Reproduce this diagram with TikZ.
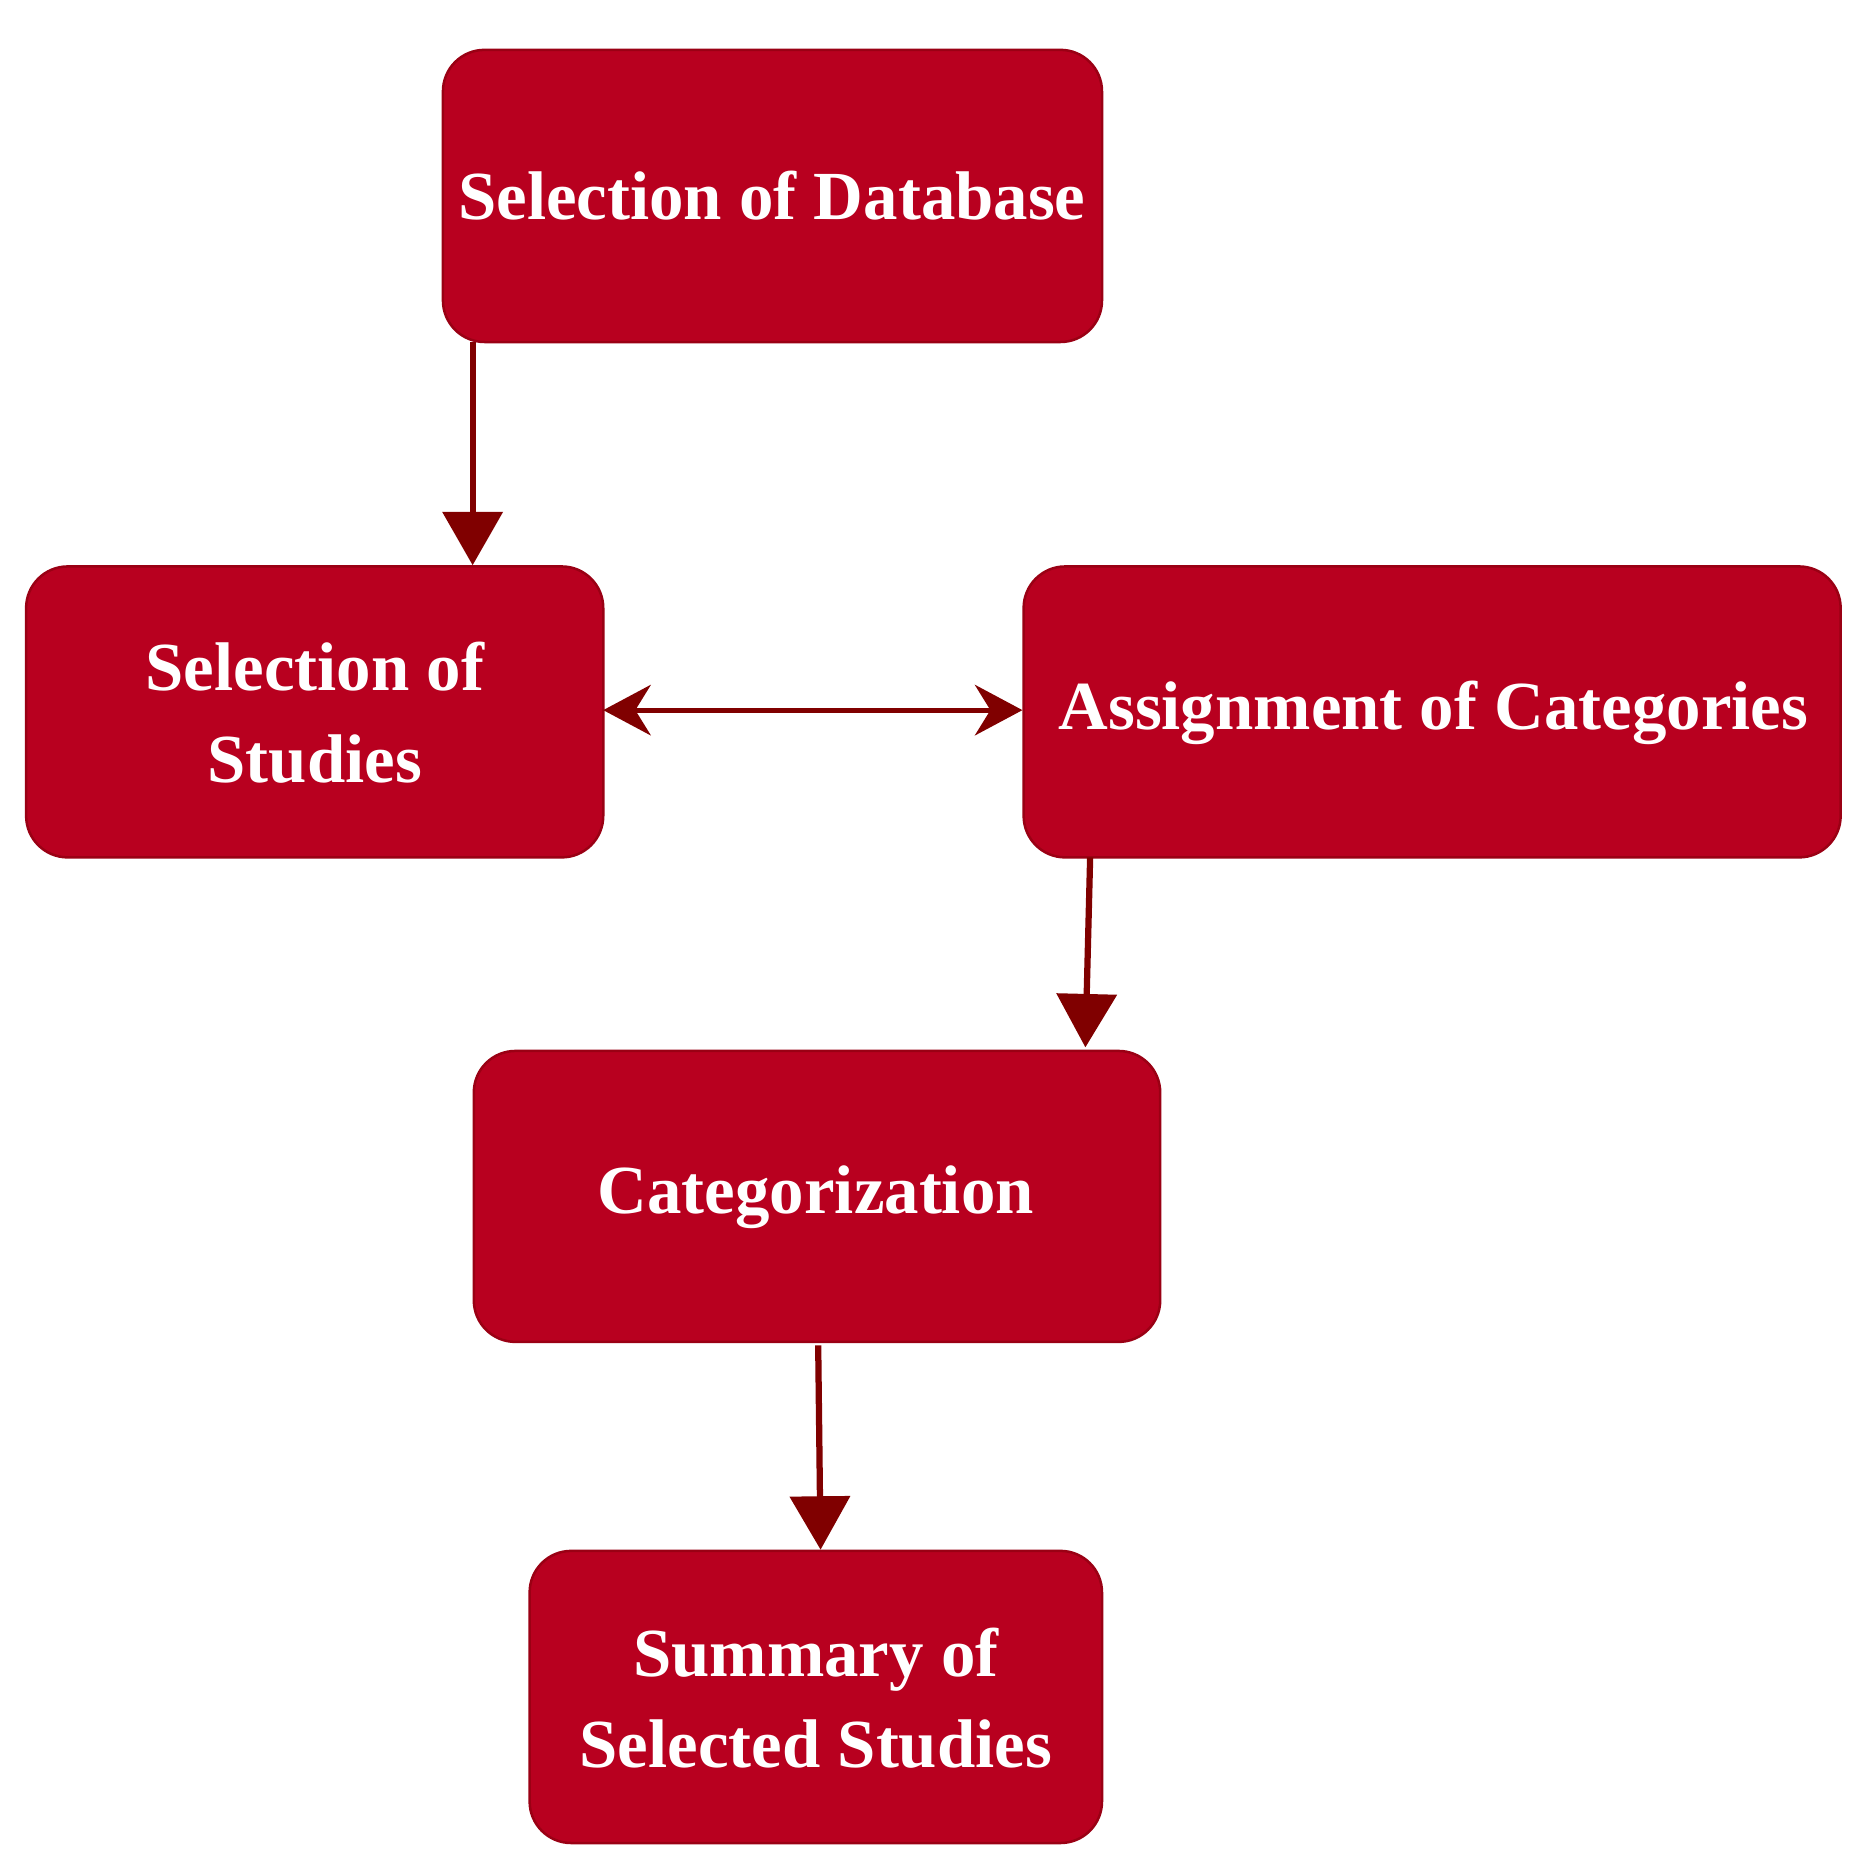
\documentclass[tikz,border=0pt]{standalone}
\usepackage{fontspec}
\setmainfont{Liberation Serif}
\usetikzlibrary{arrows.meta}
\definecolor{boxfill}{HTML}{B8001F}
\definecolor{boxdraw}{HTML}{9A0014}
\definecolor{arr}{HTML}{800000}
\begin{document}
\begin{tikzpicture}[x=0.02cm,y=-0.02cm,
  box/.style={draw=boxdraw,fill=boxfill,line width=1.2pt,rounded corners=0.7cm,text=white,font=\bfseries\fontsize{33}{44}\selectfont,align=center},
  ar/.style={draw=arr,line width=3pt,-{Triangle[length=0.9cm,width=1cm]}},
  ar2/.style={draw=arr,line width=2.5pt,{Stealth[length=0.8cm,width=0.85cm]}-{Stealth[length=0.8cm,width=0.85cm]}}]
\useasboundingbox (0,0) rectangle (1568,1568);
\path[box] (373,42) rectangle (928,288);
\node[text=white,font=\bfseries\fontsize{33}{44}\selectfont] (a) at (650,165) {Selection of Database};
\path[box] (22,477) rectangle (508,722);
\node[text=white,font=\bfseries\fontsize{33}{44}\selectfont,align=center] (b) at (265,600) {Selection of\\Studies};
\path[box] (862,477) rectangle (1550,722);
\node[text=white,font=\bfseries\fontsize{33}{44}\selectfont] (c) at (1207,600) {Assignment of Categories};
\path[box] (399,885) rectangle (977,1130);
\node[text=white,font=\bfseries\fontsize{33}{44}\selectfont] (d) at (687,1008) {Categorization};
\path[box] (446,1306) rectangle (928,1552);
\node[text=white,font=\bfseries\fontsize{33}{44}\selectfont,align=center] (e) at (687,1430) {Summary of\\Selected Studies};
\coordinate (a1) at (398,288); \coordinate (b1) at (398,476);
\coordinate (c1) at (918,722); \coordinate (d1) at (914,882);
\coordinate (d2) at (689,1133); \coordinate (e1) at (691,1305);
\coordinate (b2) at (508,598); \coordinate (c2) at (861,598);
\draw[ar] (a1) -- (b1);
\draw[ar] (c1) -- (d1);
\draw[ar] (d2) -- (e1);
\draw[ar2] (b2) -- (c2);
\end{tikzpicture}
\end{document}
